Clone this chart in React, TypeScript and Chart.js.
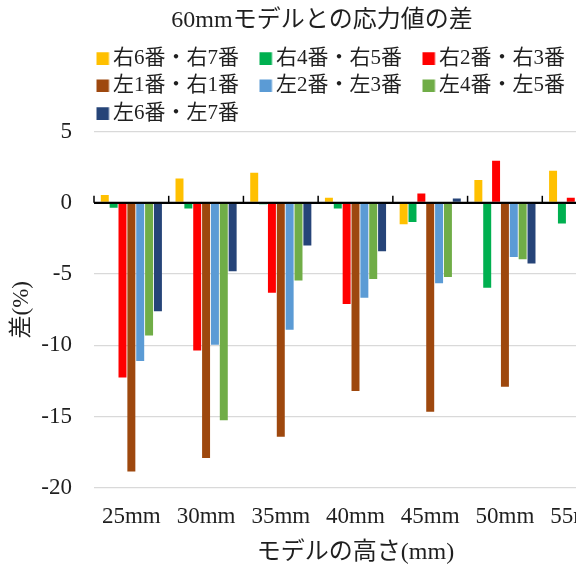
import React, { useEffect, useRef } from 'react';
import { Chart, registerables } from 'chart.js';

Chart.register(...registerables);

const categories = ['25mm', '30mm', '35mm', '40mm', '45mm', '50mm', '55mm'];
const seriesNames = ['右6番・右7番', '右4番・右5番', '右2番・右3番', '左1番・右1番', '左2番・左3番', '左4番・左5番', '左6番・左7番'];
// 55mm values of the last four series are cut off in the source picture (not readable) -> null
const r67 = [0.55, 1.7, 2.1, 0.35, -1.5, 1.6, 2.25];
const r45 = [-0.35, -0.4, -0.1, -0.4, -1.35, -5.95, -1.45];
const r23 = [-12.25, -10.35, -6.3, -7.1, 0.65, 2.95, 0.35];
const l1r1 = [-18.85, -17.9, -16.4, -13.2, -14.65, -12.9, null];
const l23 = [-11.1, -9.95, -8.9, -6.65, -5.65, -3.8, null];
const l45 = [-9.3, -15.25, -5.45, -5.35, -5.2, -3.95, null];
const l67 = [-7.6, -4.8, -3.0, -3.4, 0.3, -4.25, null];
const yTicks = { min: -20, max: 5, step: 5 };

const colors = ['#FFC000', '#00B050', '#FF0000', '#9E480E', '#5B9BD5', '#70AD47', '#264478'];
const FAMILY = "'Liberation Serif', 'Noto Sans CJK JP', serif";
const TEXT = '#1f1f1f';

function legendSwatch(color: string) {
  const c = document.createElement('canvas');
  c.width = 36;
  c.height = 13;
  const g = c.getContext('2d');
  if (g) {
    g.fillStyle = color;
    g.fillRect(22, 0.5, 12.5, 12.5);
  }
  return c;
}

const axisMarks = {
  id: 'axisMarks',
  beforeDraw(chart: any) {
    if (chart.legend) {
      chart.legend.left = chart.chartArea.left - 18;
      if (chart.titleBlock) chart.legend.top = chart.titleBlock.bottom + 2;
    }
  },
  afterDatasetsDraw(chart: any) {
    const { ctx } = chart;
    const x = chart.scales.x;
    const y = chart.scales.y;
    const y0 = y.getPixelForValue(0);
    ctx.save();
    ctx.strokeStyle = '#000';
    ctx.lineWidth = 2;
    ctx.beginPath();
    ctx.moveTo(x.left, y0);
    ctx.lineTo(x.right, y0);
    ctx.stroke();
    ctx.lineWidth = 1.5;
    for (let i = 0; i <= categories.length; i++) {
      const px = x.getPixelForValue(i - 0.5);
      ctx.beginPath();
      ctx.moveTo(px, y0);
      ctx.lineTo(px, y0 - 7);
      ctx.stroke();
    }
    ctx.restore();
  },
};

export default function App() {
  const ref = useRef<HTMLCanvasElement>(null);
  useEffect(() => {
    if (!ref.current) return;
    const all = [r67, r45, r23, l1r1, l23, l45, l67];
    const chart = new Chart(ref.current, {
      type: 'bar',
      data: {
        labels: categories,
        datasets: all.map((d, i) => ({
          label: seriesNames[i],
          data: d,
          backgroundColor: colors[i],
          borderWidth: 0,
          pointStyle: legendSwatch(colors[i]),
          categoryPercentage: 0.83,
          barPercentage: 0.9,
        })),
      },
      options: {
        animation: false,
        responsive: false,
        layout: { padding: { right: 23, left: 27, top: 0, bottom: 0 } },
        plugins: {
          title: {
            display: true,
            text: '60mmモデルとの応力値の差',
            color: TEXT,
            font: { family: FAMILY, size: 24, weight: 'normal' },
            padding: { top: 6.3, bottom: 3.9 },
          },
          legend: {
            position: 'top',
            fullSize: false,
            align: 'start',
            labels: {
              usePointStyle: true,
              pointStyleWidth: 20,
              boxWidth: 12,
              boxHeight: 12,
              padding: 6.5,
              color: TEXT,
              font: { family: FAMILY, size: 21 },
            },
          },
          tooltip: { enabled: false },
        },
        scales: {
          x: {
            grid: { display: false, drawTicks: false },
            border: { display: false },
            ticks: { color: TEXT, font: { family: FAMILY, size: 23 }, padding: 15, maxRotation: 0, autoSkip: false },
            title: {
              display: true,
              text: 'モデルの高さ(mm)',
              color: TEXT,
              font: { family: FAMILY, size: 24 },
              padding: { top: 8, bottom: 0 },
            },
            afterFit: (s: any) => {
              s.height = 79;
              s.paddingLeft = 0;
              s.paddingRight = 0;
            },
          },
          y: {
            min: yTicks.min,
            max: yTicks.max,
            ticks: { stepSize: yTicks.step, color: TEXT, font: { family: FAMILY, size: 23 }, padding: 22 },
            grid: {
              drawTicks: false,
              color: (c: any) => (c.tick && c.tick.value === 0 ? '#000' : '#d9d9d9'),
              lineWidth: (c: any) => (c.tick && c.tick.value === 0 ? 2 : 1.3),
            },
            border: { display: false },
            title: {
              display: true,
              text: '差(%)',
              color: TEXT,
              font: { family: FAMILY, size: 23 },
              padding: { top: -18.8, bottom: 0 },
            },
            afterFit: (s: any) => {
              s.width = 67;
            },
          },
        },
      },
      plugins: [axisMarks],
    } as any);
    return () => chart.destroy();
  }, []);
  return (
    <div style={{ position: 'fixed', left: 0, top: 0, width: 576, height: 567, overflow: 'hidden', background: '#fff' }}>
      <canvas ref={ref} width={640} height={567} style={{ width: 640, height: 567, display: 'block' }} />
    </div>
  );
}
